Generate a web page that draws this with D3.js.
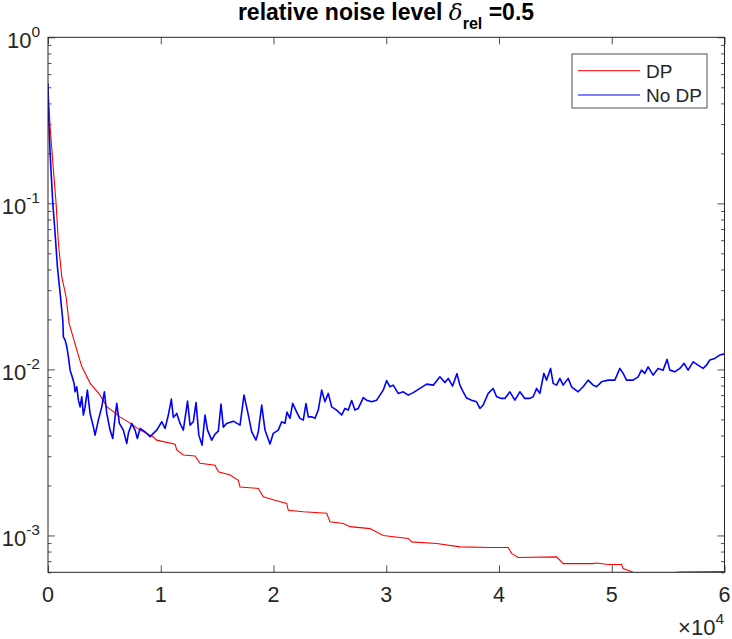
<!DOCTYPE html>
<html>
<head>
<meta charset="utf-8">
<script src="https://cdn.jsdelivr.net/npm/d3@7"></script>
<style>
  html, body { margin: 0; padding: 0; background: #fff; }
  svg { display: block; }
  text { font-family: "Liberation Sans", Arial, Helvetica, sans-serif; fill: #262626; }
</style>
</head>
<body>
<svg id="chart" width="732" height="639"></svg>
<script>
// ---- data ----
const dpIter = [0,186,479,718,922,1223,1604,1870,2553,2996,3732,4619,5213,6392,7279,8165,9317,9645,11268,11418,12003,13040,13484,14813,15106,16143,16879,17030,18652,19095,20132,21170,21311,22641,24716,25008,26187,26781,28554,29733,31949,32251,34467,36532,39192,40815,41116,41702,45106,45691,48350,48651,49680,50867,51009,51896,55442,56036,60000];
const dpValue = [0.509,0.289,0.159,0.1,0.0577,0.0361,0.0274,0.019,0.0131,0.0104,0.00827,0.0070,0.00596,0.00518,0.00475,0.00431,0.00393,0.00375,0.00355,0.00327,0.00305,0.00301,0.00272,0.00265,0.00242,0.00231,0.00215,0.00196,0.00192,0.00171,0.00163,0.00156,0.00142,0.00139,0.00136,0.00121,0.00118,0.00113,0.00110,0.00100,0.00096,0.000915,0.000895,0.000854,0.000847,0.000847,0.00078,0.000737,0.000743,0.000677,0.000677,0.000683,0.000668,0.000668,0.000632,0.0006,0.000598,0.000603,0.000606];

const noDpIter = [0,35,186,426,629,833,1073,1312,1365,1516,1667,1808,1959,2110,2314,2402,2553,2695,2846,2996,3138,3289,3493,3732,4025,4175,4468,4769,5000,5213,5505,5745,5948,6099,6330,6684,6986,7128,7429,7721,7925,8165,8608,9051,9344,9645,10088,10381,10673,10940,11117,11418,11711,12003,12375,12597,12890,13130,13377,13661,13927,14149,14521,14813,15106,15345,15549,15851,16436,17030,17384,17739,18067,18448,18652,18953,19246,19689,19982,20425,20726,21019,21196,21462,21701,22056,22348,22641,22880,23084,23386,23678,23971,24273,24565,24858,25159,25602,26045,26338,26630,26932,27224,27517,27960,28262,28705,29148,29441,29733,30035,30327,30620,31063,31506,31949,32393,32987,33581,34166,34760,35203,35496,35886,36267,36532,36825,37126,37570,38013,38305,38598,39041,39484,39786,40229,40522,40965,41408,41852,42295,42738,43030,43332,43625,43979,44218,44573,44803,45106,45398,45691,46134,46435,47020,47464,47907,48350,48651,49095,49680,50273,50717,51009,51311,51896,52339,52640,52933,53226,53669,54112,54556,54910,55149,55592,56036,56417,56771,57215,57658,58101,58403,58696,59139,59582,60000];
const noDpValue = [0.528,0.362,0.200,0.1,0.066,0.0415,0.0288,0.0198,0.0157,0.0150,0.0137,0.0119,0.0099,0.0092,0.00824,0.00733,0.00786,0.00653,0.00595,0.00684,0.00531,0.00595,0.0075,0.00543,0.00451,0.00402,0.00495,0.00595,0.00733,0.00543,0.00431,0.00384,0.00518,0.00624,0.00473,0.00431,0.00358,0.00412,0.00473,0.00431,0.00384,0.00441,0.00421,0.00393,0.00412,0.00431,0.00484,0.00441,0.00531,0.00663,0.00513,0.00543,0.00473,0.00431,0.00644,0.00462,0.00484,0.00631,0.00402,0.0035,0.00531,0.00431,0.00375,0.00408,0.00425,0.00618,0.00449,0.00473,0.00488,0.00462,0.007,0.00543,0.00421,0.00375,0.00421,0.0061,0.00431,0.00355,0.00412,0.00431,0.00484,0.00473,0.00553,0.00507,0.00624,0.00553,0.00507,0.00495,0.00623,0.00518,0.00518,0.00507,0.00569,0.0075,0.00639,0.00717,0.00595,0.00569,0.00531,0.00582,0.00569,0.0065,0.00569,0.00582,0.00676,0.00653,0.00638,0.00653,0.0070,0.0075,0.00856,0.00786,0.00804,0.00717,0.00733,0.0070,0.00725,0.00768,0.00815,0.00804,0.00902,0.00833,0.00883,0.00794,0.00943,0.00804,0.00733,0.00672,0.00653,0.00638,0.00582,0.0061,0.00717,0.00768,0.00684,0.00669,0.00669,0.00733,0.00653,0.00733,0.00669,0.00669,0.00684,0.00768,0.00717,0.00946,0.00862,0.01014,0.00824,0.00804,0.00883,0.00804,0.00883,0.00786,0.00733,0.00786,0.00862,0.00804,0.00786,0.00842,0.00862,0.00862,0.01014,0.00946,0.00862,0.00862,0.00902,0.0099,0.00946,0.01036,0.00924,0.01014,0.0099,0.01149,0.0099,0.00967,0.01014,0.01087,0.0099,0.0111,0.0106,0.01014,0.0106,0.0114,0.01165,0.0122,0.0124];

const xTickValues = [0, 10000, 20000, 30000, 40000, 50000, 60000];
const xTickLabels = ["0", "1", "2", "3", "4", "5", "6"];
const yTickExponents = [0, -1, -2, -3];
const xDomain = [0, 60000];
const yDomain = [6e-4, 1];
const seriesNames = ["DP", "No DP"];
const seriesColors = ["#ff0000", "#0000ff"];

// ---- layout ----
const L = 48, R = 724.5, T = 37.3, B = 572.3;
const svg = d3.select("#chart");
const x = d3.scaleLinear().domain(xDomain).range([L, R]);
const y = d3.scaleLog().domain(yDomain).range([B, T]);
const axisColor = "#262626";

svg.append("defs").append("clipPath").attr("id", "clip")
  .append("rect").attr("x", L).attr("y", T).attr("width", R - L).attr("height", B - T);

// minor y ticks
const minorY = [];
for (let e = -4; e <= 0; e++) for (let m = 2; m <= 9; m++) {
  const v = m * Math.pow(10, e);
  if (v >= yDomain[0] && v <= yDomain[1]) minorY.push(v);
}
const majorY = yTickExponents.map(e => Math.pow(10, e));

function styleAxis(g) {
  g.select(".domain").remove();
  g.selectAll(".tick line").attr("stroke", axisColor).attr("stroke-width", 0.8);
  g.selectAll(".tick text").remove();
}

svg.append("g").attr("transform", `translate(0,${B})`)
  .call(d3.axisBottom(x).tickValues(xTickValues).tickSizeInner(-7).tickSizeOuter(0)).call(styleAxis);
svg.append("g").attr("transform", `translate(0,${T})`)
  .call(d3.axisTop(x).tickValues(xTickValues).tickSizeInner(-7).tickSizeOuter(0)).call(styleAxis);
svg.append("g").attr("transform", `translate(${L},0)`)
  .call(d3.axisLeft(y).tickValues(majorY).tickSizeInner(-7).tickSizeOuter(0)).call(styleAxis);
svg.append("g").attr("transform", `translate(${R},0)`)
  .call(d3.axisRight(y).tickValues(majorY).tickSizeInner(-7).tickSizeOuter(0)).call(styleAxis);
svg.append("g").attr("transform", `translate(${L},0)`)
  .call(d3.axisLeft(y).tickValues(minorY).tickSizeInner(-3.5).tickSizeOuter(0)).call(styleAxis);
svg.append("g").attr("transform", `translate(${R},0)`)
  .call(d3.axisRight(y).tickValues(minorY).tickSizeInner(-3.5).tickSizeOuter(0)).call(styleAxis);

// x tick labels
svg.append("g").selectAll("text").data(xTickValues).join("text")
  .attr("x", d => x(d)).attr("y", B + 30)
  .attr("text-anchor", "middle").attr("font-size", 21.5)
  .text((d, i) => xTickLabels[i]);

// y tick labels: 10^e
const yl = svg.append("g").selectAll("text").data(yTickExponents).join("text")
  .attr("x", 40).attr("y", d => y(Math.pow(10, d)) + 10.5)
  .attr("text-anchor", "end").attr("font-size", 22);
yl.append("tspan").text("10");
yl.append("tspan").attr("dy", -11).attr("font-size", 15.5).text(d => d === 0 ? "0" : "-" + Math.abs(d));

// x exponent label
const xe = svg.append("text").attr("x", 724).attr("y", 635).attr("text-anchor", "end").attr("font-size", 22);
xe.append("tspan").text("\u00d710");
xe.append("tspan").attr("dy", -11).attr("font-size", 15.5).text("4");

// lines
const line = d3.line().x(d => x(d[0])).y(d => y(d[1]));
const dpData = dpIter.map((v, i) => [v, dpValue[i]]);
const noDpData = noDpIter.map((v, i) => [v, noDpValue[i]]);
const plot = svg.append("g").attr("clip-path", "url(#clip)");
plot.append("path").datum(dpData).attr("d", line)
  .attr("fill", "none").attr("stroke", seriesColors[0]).attr("stroke-width", 1.1);
plot.append("path").datum(noDpData).attr("d", line)
  .attr("fill", "none").attr("stroke", seriesColors[1]).attr("stroke-width", 1.6).attr("stroke-linejoin", "round");

// frame
svg.append("rect").attr("x", L).attr("y", T).attr("width", R - L).attr("height", B - T)
  .attr("fill", "none").attr("stroke", axisColor).attr("stroke-width", 1);

// legend
const lg = svg.append("g");
lg.append("rect").attr("x", 572).attr("y", 54).attr("width", 135).attr("height", 54)
  .attr("fill", "#fff").attr("stroke", axisColor).attr("stroke-width", 0.8);
seriesNames.forEach((name, i) => {
  const yy = 70.7 + i * 24.3;
  lg.append("line").attr("x1", 578).attr("x2", 640).attr("y1", yy).attr("y2", yy)
    .attr("stroke", seriesColors[i]).attr("stroke-width", 1);
  lg.append("text").attr("x", 646).attr("y", yy + 6.8).attr("font-size", 19).text(name);
});

// title
const title = svg.append("text").attr("x", 386).attr("y", 20).attr("text-anchor", "middle")
  .attr("font-size", 23).attr("font-weight", "bold").style("fill", "#000");
title.append("tspan").text("relative noise level ");
title.append("tspan").attr("font-family", "'DejaVu Serif', 'Liberation Serif', serif")
  .attr("font-style", "italic").attr("font-weight", "normal").text("\u03b4");
title.append("tspan").attr("dy", 9).attr("font-size", 16).text("rel");
title.append("tspan").attr("dy", -9).text(" =0.5");
</script>
</body>
</html>
